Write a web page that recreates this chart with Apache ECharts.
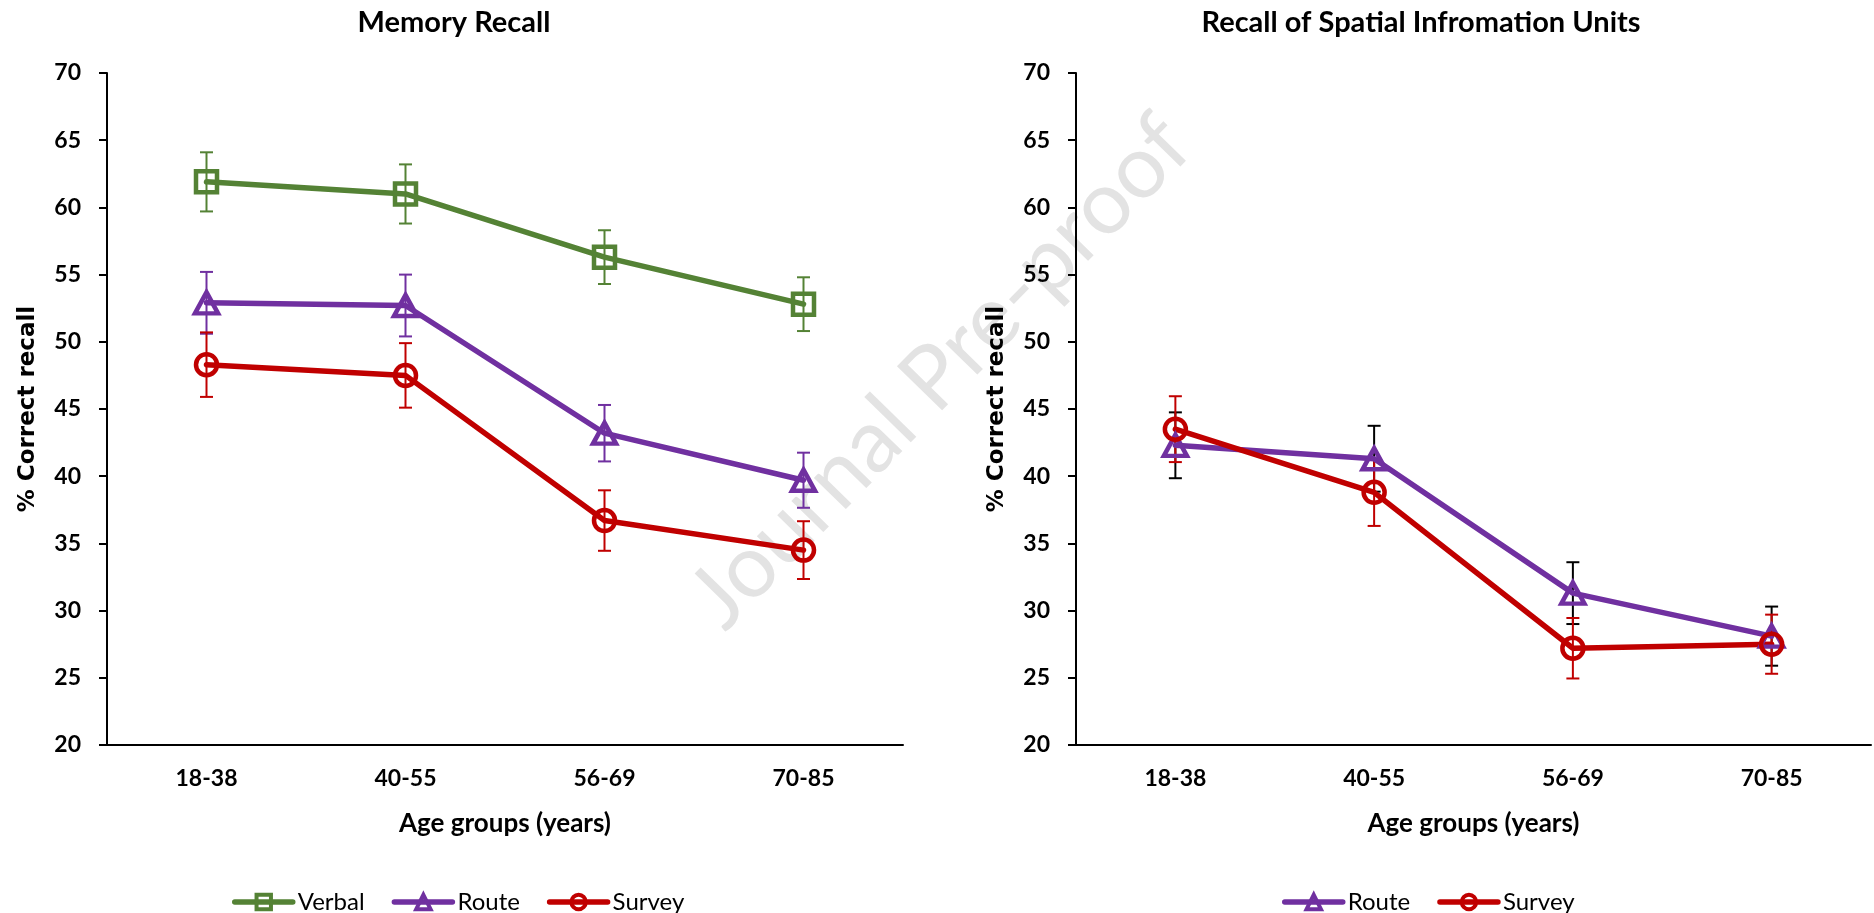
<!DOCTYPE html>
<html>
<head>
<meta charset="utf-8">
<script src="https://cdn.jsdelivr.net/npm/echarts@6/dist/echarts.min.js"></script>
<style>
html,body{margin:0;padding:0;background:#fff;}
#chart{width:1874px;height:913px;}
</style>
</head>
<body>
<div id="chart"></div>
<script>
// ---- Data ----
const categories = ['18-38', '40-55', '56-69', '70-85'];
const yTicks = [20, 25, 30, 35, 40, 45, 50, 55, 60, 65, 70];

// Memory Recall
const verbalMean = [61.9, 61.0, 56.3, 52.8];
const verbalSE   = [2.2, 2.2, 2.0, 2.0];
const routeMean  = [52.9, 52.7, 43.2, 39.7];
const routeSE    = [2.3, 2.3, 2.1, 2.05];
const surveyMean = [48.3, 47.5, 36.7, 34.5];
const surveySE   = [2.4, 2.4, 2.25, 2.15];

// Recall of Spatial Information Units
const routeSpatialMean  = [42.3, 41.3, 31.3, 28.1];
const routeSpatialSE    = [2.45, 2.45, 2.3, 2.2];
const surveySpatialMean = [43.5, 38.8, 27.2, 27.5];
const surveySpatialSE   = [2.45, 2.5, 2.25, 2.2];

// ---- Styling ----
const GREEN = '#548235', PURPLE = '#7030A0', RED = '#C00000';
const CAL = 'Lato, "Open Sans", sans-serif';

function errData(mean, se) {
  return mean.map((m, i) => [i, m - se[i], m + se[i]]);
}
function errSeries(name, mean, se, color, axisIdx) {
  return {
    type: 'custom', name: name, xAxisIndex: axisIdx, yAxisIndex: axisIdx, z: 1,
    silent: true,
    data: errData(mean, se),
    renderItem: function (params, api) {
      const x = api.value(0);
      const lo = api.coord([x, api.value(1)]);
      const hi = api.coord([x, api.value(2)]);
      const hw = 6.5;
      const st = { stroke: color, lineWidth: 2 };
      return {
        type: 'group',
        children: [
          { type: 'line', shape: { x1: hi[0], y1: hi[1], x2: lo[0], y2: lo[1] }, style: st },
          { type: 'line', shape: { x1: hi[0] - hw, y1: hi[1], x2: hi[0] + hw, y2: hi[1] }, style: st },
          { type: 'line', shape: { x1: lo[0] - hw, y1: lo[1], x2: lo[0] + hw, y2: lo[1] }, style: st }
        ]
      };
    }
  };
}
function lineSeries(name, mean, color, symbol, size, axisIdx) {
  return {
    type: 'line', name: name, xAxisIndex: axisIdx, yAxisIndex: axisIdx, z: 3,
    data: mean,
    symbol: symbol, symbolSize: size,
    showAllSymbol: true,
    lineStyle: { color: color, width: 5.5, cap: 'round' },
    itemStyle: { color: 'rgba(255,255,255,0)', borderColor: color, borderWidth: 4.5 },
    emphasis: { disabled: true }
  };
}

const xAxisBase = (gi) => ({
  type: 'category', gridIndex: gi, data: categories, boundaryGap: true,
  name: 'Age groups (years)', nameLocation: 'middle', nameGap: 66,
  nameTextStyle: { fontFamily: CAL, fontWeight: 'bold', fontSize: 26, color: '#000' },
  axisLine: { lineStyle: { color: '#000', width: 2 } },
  axisTick: { alignWithLabel: true, length: 8, lineStyle: { color: '#000', width: 2 } },
  axisLabel: { fontFamily: CAL, fontWeight: 'bold', fontSize: 23, color: '#000', margin: 22 },
  splitLine: { show: false }
});
const yAxisBase = (gi) => ({
  type: 'value', gridIndex: gi, min: yTicks[0], max: yTicks[yTicks.length - 1], interval: 5,
  name: '% Correct recall', nameLocation: 'middle', nameGap: 67, nameRotate: 90,
  nameTextStyle: { fontFamily: '"DejaVu Sans", Verdana, sans-serif', fontWeight: 'bold', fontSize: 23, color: '#000' },
  axisLine: { show: true, lineStyle: { color: '#000', width: 2 } },
  axisTick: { show: true, length: 8, lineStyle: { color: '#000', width: 2 } },
  axisLabel: { fontFamily: CAL, fontWeight: 'bold', fontSize: 23, color: '#000', margin: 26 },
  splitLine: { show: false }
});

const legendBase = (names, left) => ({
  data: names, left: left, top: 890, padding: 0,
  itemWidth: 58, itemHeight: 18, itemGap: 27,
  lineStyle: { width: 5.5 },
  itemStyle: { borderWidth: 4 },
  textStyle: { fontFamily: CAL, fontSize: 24, color: '#000' }
});

const option = {
  backgroundColor: '#fff',
  animation: false,
  title: [
    { text: 'Memory Recall', left: 454, top: 8, textAlign: 'center', padding: 0,
      textStyle: { fontFamily: CAL, fontWeight: 'bold', fontSize: 29, color: '#000' } },
    { text: 'Recall of Spatial Infromation Units', left: 1421, top: 8, textAlign: 'center', padding: 0,
      textStyle: { fontFamily: CAL, fontWeight: 'bold', fontSize: 29, color: '#000' } }
  ],
  legend: [
    legendBase(['Verbal', 'Route', 'Survey'], 232),
    legendBase(['Route', 'Survey'], 1282)
  ],
  grid: [
    { left: 107, top: 73, width: 796, height: 672 },
    { left: 1076, top: 73, width: 795, height: 672 }
  ],
  xAxis: [xAxisBase(0), xAxisBase(1)],
  yAxis: [yAxisBase(0), yAxisBase(1)],
  graphic: [{
    type: 'text', x: 940, y: 372, rotation: Math.PI / 4 * 1.015, z: -10, silent: true,
    style: { text: 'Journal Pre-proof', align: 'center', verticalAlign: 'middle',
      font: 'normal 88px Lato, "Open Sans", sans-serif', fill: '#e3e3e3' }
  }],
  series: [
    errSeries('Verbal SE', verbalMean, verbalSE, GREEN, 0),
    errSeries('Route SE', routeMean, routeSE, PURPLE, 0),
    errSeries('Survey SE', surveyMean, surveySE, RED, 0),
    lineSeries('Verbal', verbalMean, GREEN, 'rect', 21, 0),
    lineSeries('Route', routeMean, PURPLE, 'triangle', [23, 21], 0),
    lineSeries('Survey', surveyMean, RED, 'circle', 21, 0),
    errSeries('Route Spatial SE', routeSpatialMean, routeSpatialSE, '#000', 1),
    errSeries('Survey Spatial SE', surveySpatialMean, surveySpatialSE, RED, 1),
    lineSeries('Route', routeSpatialMean, PURPLE, 'triangle', [23, 21], 1),
    lineSeries('Survey', surveySpatialMean, RED, 'circle', 21, 1)
  ]
};

const chart = echarts.init(document.getElementById('chart'), null, { renderer: 'canvas' });
chart.setOption(option);
</script>
</body>
</html>
